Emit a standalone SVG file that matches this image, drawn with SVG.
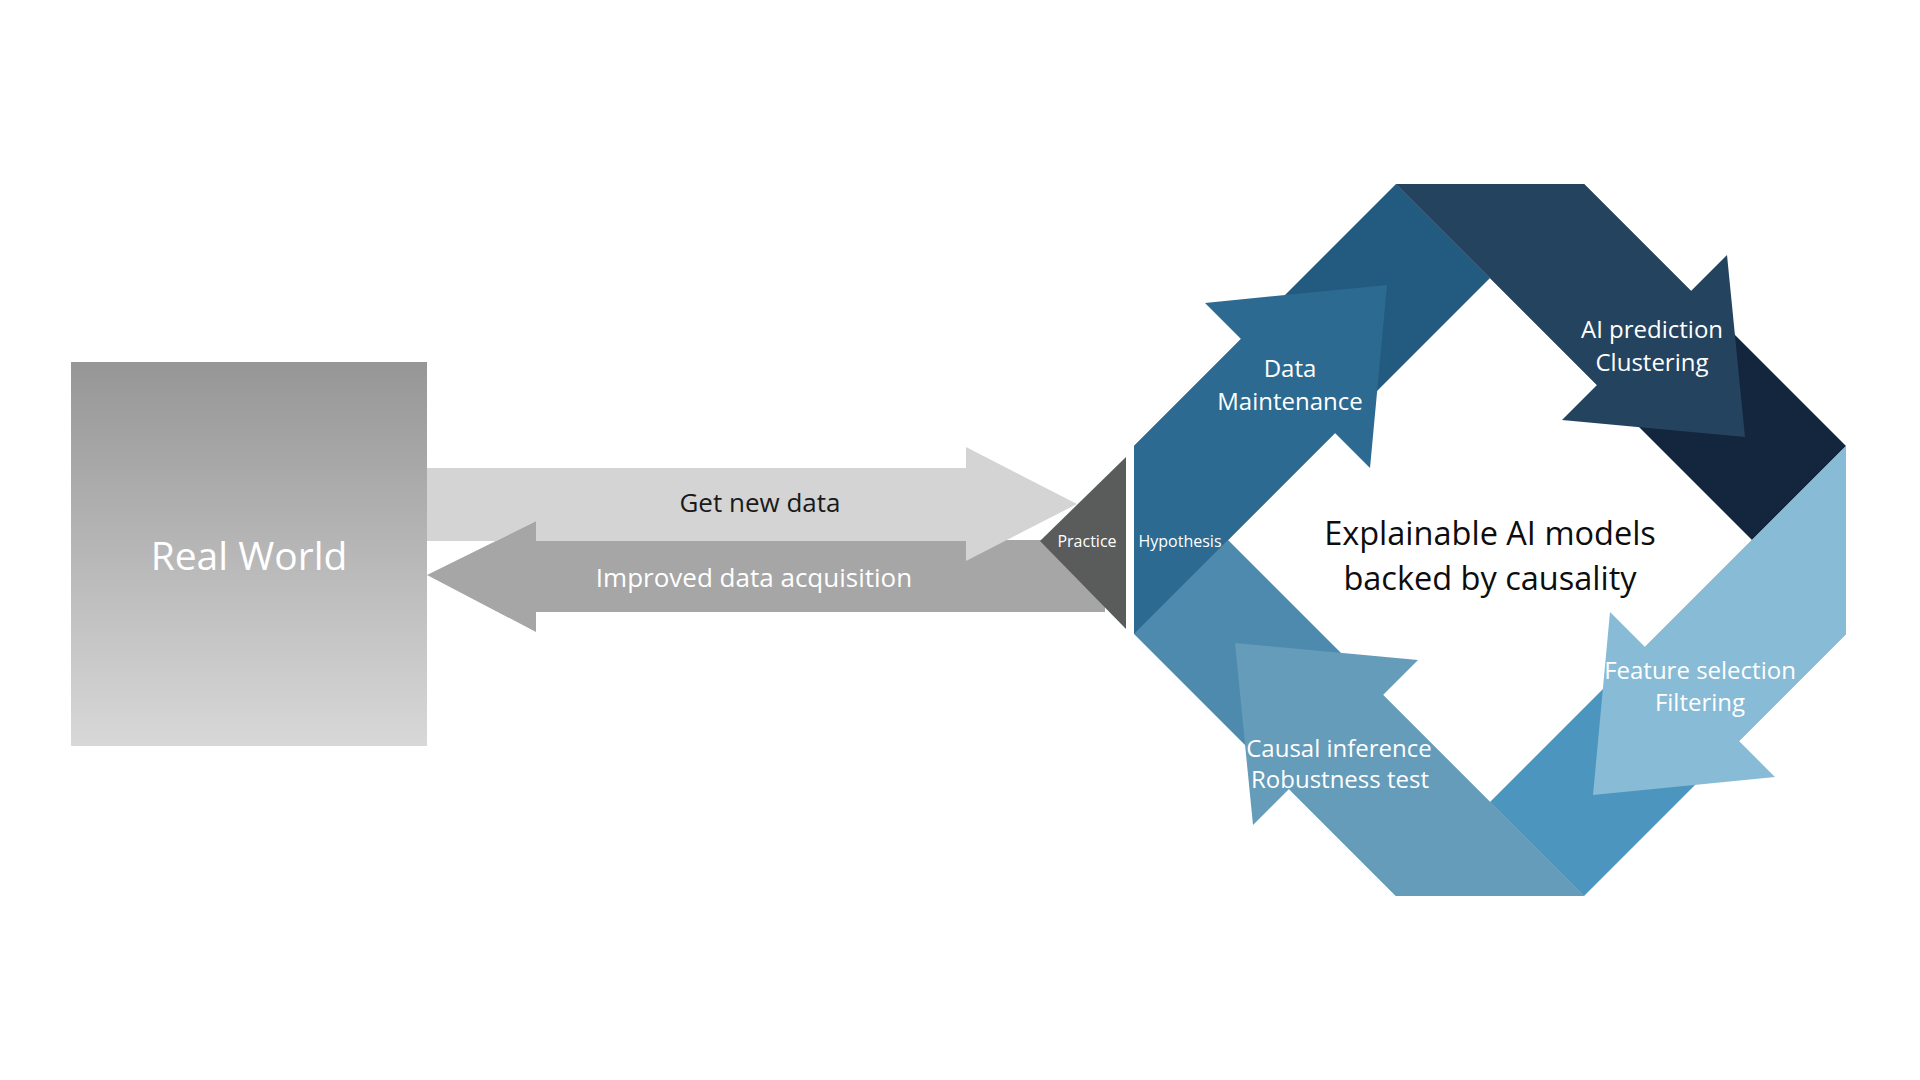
<svg xmlns="http://www.w3.org/2000/svg" xmlns:xlink="http://www.w3.org/1999/xlink" width="1920" height="1080" viewBox="0 0 1920 1080">
<style>
text{font-family:"Open Sans","Noto Sans","Liberation Sans",sans-serif;text-anchor:middle}
.w{fill:#ffffff}
.lbl{font-size:24px}
.small{font-size:16px}
.arr{font-size:26px}
.tr-tail{fill:#13263d}.tr-main{fill:#24435e}
.br-tail{fill:#4b95be}.br-main{fill:#88bbd5}
.bl-tail{fill:#4d8aad}.bl-main{fill:#659cba}
.tl-tail{fill:#225a80}.tl-main{fill:#2c6a91}
</style>
<defs>
<linearGradient id="rw" x1="0" y1="0" x2="0" y2="1">
<stop offset="0" stop-color="#969696"/>
<stop offset="1" stop-color="#d8d8d8"/>
</linearGradient>
<polygon id="band" points="-94,-356 94,-356 356,-94 262,0"/>
<polygon id="arrow" points="-94,-356 94,-356 201,-249 237,-285 255,-103 72,-120 107,-155"/>
</defs>
<rect width="1920" height="1080" fill="#ffffff"/>

<g id="real-world">
<rect x="71" y="362" width="356" height="384" fill="url(#rw)"/>
<text x="249" y="570" class="w" style="font-size:39px">Real World</text>
</g>

<g id="connectors">
<polygon id="improved-arrow" points="427,575 536,521 536,540 1105,540 1105,612 536,612 536,632" fill="#a6a6a6"/>
<polygon id="get-data-arrow" points="427,468 966,468 966,447 1077,504 966,561 966,541 536,541 536,521 496,541 427,541" fill="#d4d4d4"/>
<text x="760" y="512" class="arr" fill="#1a1a1a">Get new data</text>
<text x="754" y="587" class="arr w">Improved data acquisition</text>
</g>

<g id="practice">
<polygon points="1126,457 1126,629 1040,541" fill="#5a5b5b"/>
<text x="1087" y="547" class="small w">Practice</text>
</g>

<g id="ai-prediction">
<use xlink:href="#band" href="#band" class="tr-tail" transform="translate(1490 540)"/>
<use xlink:href="#arrow" href="#arrow" class="tr-main" transform="translate(1490 540)"/>
<text x="1652" y="338" class="lbl w">AI prediction</text>
<text x="1652" y="371" class="lbl w">Clustering</text>
</g>

<g id="feature-selection">
<use xlink:href="#band" href="#band" class="br-tail" transform="translate(1490 540) rotate(90)"/>
<use xlink:href="#arrow" href="#arrow" class="br-main" transform="translate(1490 540) rotate(90)"/>
<text x="1700" y="679" class="lbl w">Feature selection</text>
<text x="1700" y="711" class="lbl w">Filtering</text>
</g>

<g id="causal-inference">
<use xlink:href="#band" href="#band" class="bl-tail" transform="translate(1490 540) rotate(180)"/>
<use xlink:href="#arrow" href="#arrow" class="bl-main" transform="translate(1490 540) rotate(180)"/>
<text x="1339" y="757" class="lbl w">Causal inference</text>
<text x="1340" y="788" class="lbl w">Robustness test</text>
</g>

<g id="data-maintenance">
<use xlink:href="#band" href="#band" class="tl-tail" transform="translate(1490 540) rotate(270)"/>
<use xlink:href="#arrow" href="#arrow" class="tl-main" transform="translate(1490 540) rotate(270)"/>
<text x="1290" y="377" class="lbl w">Data</text>
<text x="1290" y="410" class="lbl w">Maintenance</text>
<text x="1180" y="547" class="small w">Hypothesis</text>
</g>

<g id="center">
<text x="1490" y="545" style="font-size:32.5px" fill="#0d0d0d">Explainable AI models</text>
<text x="1490" y="590" style="font-size:32.5px" fill="#0d0d0d">backed by causality</text>
</g>
</svg>
